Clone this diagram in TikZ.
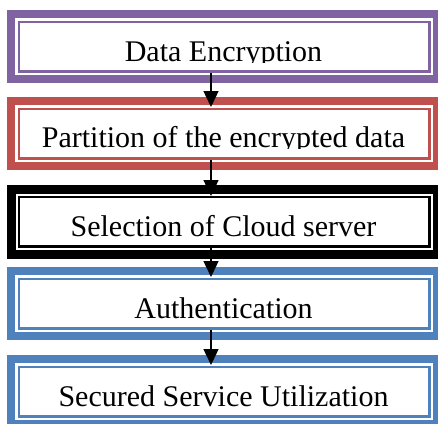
\documentclass[tikz,border=0pt]{standalone}
\usepackage{fontspec}
\setmainfont{Liberation Serif}
\usetikzlibrary{arrows.meta}
\definecolor{stepviolet}{HTML}{8064A2}
\definecolor{stepred}{HTML}{C0504D}
\definecolor{stepblue}{HTML}{4F81BD}
\tikzset{
  stage box/.style={rectangle, draw=#1, line width=8pt, outer sep=0pt,
    minimum width=426pt, minimum height=65pt, inner sep=0pt},
  stage rim/.style={draw=#1, line width=2.5pt},
  stage text/.style={anchor=base, inner sep=0pt,
    font=\fontsize{30}{36}\selectfont},
  flow arrow/.style={draw=black, line width=1.4pt,
    -{Triangle[width=15pt,length=16pt]}},
}
\newcommand{\stagerim}[2]{%
  \draw[stage rim=#2] ([xshift=7.75pt,yshift=-7.75pt]#1.north west)
    rectangle ([xshift=-7.75pt,yshift=7.75pt]#1.south east);}

\begin{document}
\begin{tikzpicture}[x=1pt, y=-1pt]
  \useasboundingbox (0,0) rectangle (438,423);
  \clip (0,0) rectangle (438,423);

  % boxes
  \node[stage box=stepviolet] (encrypt) at (224,46.5) {};
  \node[stage box=stepred]    (part)    at (224,133.5) {};
  \node[stage box=black, line width=9pt] (select) at (224,221.5) {};
  \node[stage box=stepblue]   (auth)    at (224,303.5) {};
  \node[stage box=stepblue]   (usage)   at (224,391.5) {};
  \stagerim{encrypt}{stepviolet}
  \stagerim{part}{stepred}
  \stagerim{select}{black}
  \stagerim{auth}{stepblue}
  \stagerim{usage}{stepblue}

  % labels, cut off at the baseline
  \begin{scope}
    \clip (7,10) rectangle (441,62);
    \node[stage text] (encrypt label) at (223.5,61) {Data Encryption};
  \end{scope}
  \begin{scope}
    \clip (7,97) rectangle (441,148);
    \node[stage text] (part label) at (223.5,147) {Partition of the encrypted data};
  \end{scope}
  \node[stage text] (select label) at (223.5,236) {Selection of Cloud server};
  \node[stage text] (auth label) at (223.5,318) {Authentication};
  \node[stage text] (usage label) at (223.5,406) {Secured Service Utilization};

  % arrows
  \draw[flow arrow] ([xshift=-13pt,yshift=6pt]encrypt.south)
    -- ([xshift=-13pt,yshift=-6pt]part.north);
  \draw[flow arrow] ([xshift=-13pt,yshift=6pt]part.south)
    -- ([xshift=-13pt,yshift=-7pt]select.north);
  \draw[flow arrow] ([xshift=-13pt,yshift=6pt]select.south)
    -- ([xshift=-13pt,yshift=-6pt]auth.north);
  \draw[flow arrow] ([xshift=-13pt,yshift=6pt]auth.south)
    -- ([xshift=-13pt,yshift=-6pt]usage.north);
\end{tikzpicture}
\end{document}
